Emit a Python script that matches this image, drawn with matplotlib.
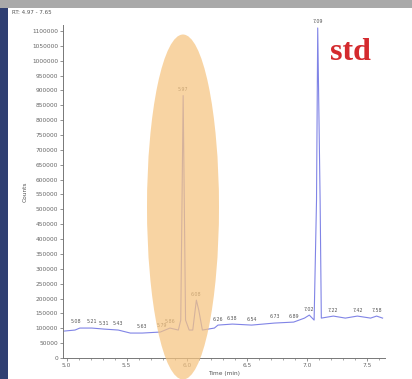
import matplotlib.pyplot as plt
from matplotlib.patches import Ellipse, Rectangle
from matplotlib.ticker import FuncFormatter

# Chromatogram trace (retention time in min, intensity in counts)
rt = [4.98, 5.07, 5.11, 5.21, 5.31, 5.43, 5.53, 5.63, 5.78, 5.86, 5.93, 5.95,
      5.97, 5.99, 6.02, 6.05, 6.07, 6.08, 6.10, 6.13, 6.23, 6.26, 6.38, 6.54,
      6.73, 6.89, 6.98, 7.02, 7.06, 7.08, 7.09, 7.11, 7.12, 7.22, 7.32, 7.42,
      7.53, 7.58, 7.63]
counts = [90600, 94000, 100700, 100700, 97300, 94000, 83900, 83900, 87300, 100700, 94000, 127500,
          882600, 127500, 94000, 94000, 161100, 194600, 161100, 94000, 100700, 110700, 114100, 110700,
          117500, 120800, 134200, 144300, 127500, 530200, 1110000, 530200, 134200, 141000, 134200, 141000,
          134200, 141000, 134200]

# Labelled peaks
peak_rt = [5.08, 5.21, 5.31, 5.43, 5.63, 5.79, 5.86, 5.97, 6.08, 6.26, 6.38, 6.54,
           6.73, 6.89, 7.02, 7.09, 7.22, 7.42, 7.58]
peak_counts = [100700, 100700, 97300, 94000, 83900, 87300, 100700, 882600, 194600, 110700, 114100, 110700,
               117500, 120800, 144300, 1110000, 141000, 141000, 141000]

fig = plt.figure(figsize=(4.12, 3.79), dpi=100)
fig.patch.set_facecolor('white')

# window frame: navy strip on the left, grey bar on top
fig.add_artist(Rectangle((0, 0), 8 / 412, 1, transform=fig.transFigure,
                         facecolor='#2f3f72', edgecolor='none', zorder=0))
fig.add_artist(Rectangle((0, 1 - 8 / 379), 1, 8 / 379, transform=fig.transFigure,
                         facecolor='#a9a9a9', edgecolor='none', zorder=0))

ax = fig.add_axes([63 / 412, 21 / 379, 322 / 412, 333 / 379])
ax.plot(rt, counts, color='#8084e6', lw=0.8)

for x, y in zip(peak_rt, peak_counts):
    ax.text(x, y + 12000, f'{x:.2f}', fontsize=3.4, color='#555555',
            ha='center', va='bottom', clip_on=False)

ax.set_xlim(4.97, 7.65)
ax.set_ylim(0, 1120000)
ax.set_xticks([5.0, 5.5, 6.0, 6.5, 7.0, 7.5])
ax.set_xticks([x / 10 for x in range(50, 77)], minor=True)
ax.set_yticks(range(0, 1100001, 50000))
ax.yaxis.set_major_formatter(FuncFormatter(lambda v, p: f'{int(v)}'))
ax.tick_params(axis='both', labelsize=4.2, colors='#666666', length=2, width=0.5, pad=1.5)
ax.tick_params(axis='x', which='minor', length=1.2, width=0.4, colors='#666666')
for side in ['top', 'right']:
    ax.spines[side].set_visible(False)
for side in ['left', 'bottom']:
    ax.spines[side].set_color('#777777')
    ax.spines[side].set_linewidth(0.7)
ax.set_xlabel('Time (min)', fontsize=4.2, color='#555555', labelpad=2)
ax.set_ylabel('Counts', fontsize=4.2, color='#555555', labelpad=3)

fig.text(12 / 412, 1 - 13 / 379, 'RT: 4.97 - 7.65', fontsize=4, color='#555555',
         ha='left', va='center')

# highlighted region around the main peaks
fig.add_artist(Ellipse((183 / 412, 1 - 207 / 379), 72 / 412, 345 / 379,
                       transform=fig.transFigure, facecolor='#f6c480',
                       edgecolor='none', alpha=0.72, zorder=5))

fig.text(330 / 412, 1 - 60 / 379, 'std', fontsize=23, color='#d42a2e',
         fontweight='bold', family='Liberation Serif', ha='left', va='baseline')

fig.savefig('out.png', dpi=100)
